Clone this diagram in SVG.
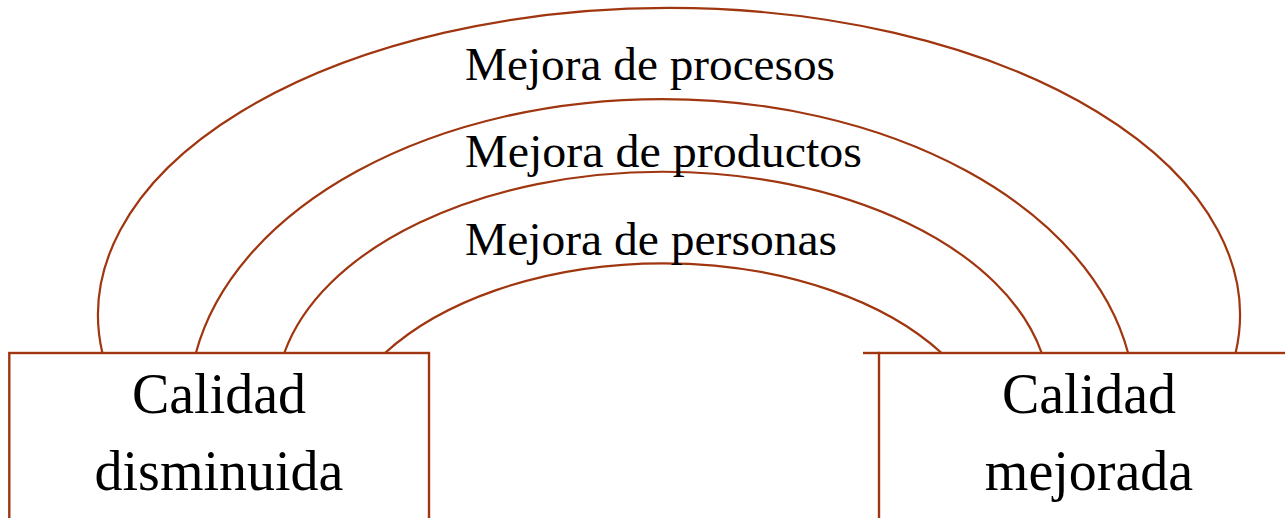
<svg xmlns="http://www.w3.org/2000/svg" width="1285" height="518" viewBox="0 0 1285 518">
<style>
.arc{fill:none;stroke:#A0360F;stroke-width:2.2}
.box{fill:#ffffff;stroke:#A0360F;stroke-width:2.4}
.node{font-family:"Liberation Serif",serif;font-size:56px;fill:#000;text-anchor:middle}
.lbl{font-family:"Liberation Serif",serif;font-size:47px;fill:#000}
</style>
<rect width="1285" height="518" fill="#ffffff"/>
<g id="connectors">
<path class="arc" d="M102.4 353 A571 307 0 1 1 1235.6 353"/>
<path class="arc" d="M195.9 353 A473 306 0 0 1 1128.1 353"/>
<path class="arc" d="M284.3 353 A387 228.3 0 0 1 1041.7 353"/>
<path class="arc" d="M385 353 A331.7 196.7 0 0 1 941.6 353"/>
</g>
<g id="labels">
<text class="lbl" x="465" y="80" textLength="370" lengthAdjust="spacingAndGlyphs">Mejora de procesos</text>
<text class="lbl" x="465" y="167" textLength="397" lengthAdjust="spacingAndGlyphs">Mejora de productos</text>
<text class="lbl" x="465" y="255" textLength="372" lengthAdjust="spacingAndGlyphs">Mejora de personas</text>
</g>
<g id="node-disminuida">
<rect class="box" x="9.3" y="353" width="419.7" height="180"/>
<text class="node" x="219" y="413">Calidad</text>
<text class="node" x="219" y="490">disminuida</text>
</g>
<g id="node-mejorada">
<rect class="box" x="879" y="353" width="420" height="180"/>
<line x1="863" y1="353" x2="880" y2="353" stroke="#A0360F" stroke-width="2.4"/>
<text class="node" x="1089" y="413">Calidad</text>
<text class="node" x="1089" y="490">mejorada</text>
</g>
</svg>
